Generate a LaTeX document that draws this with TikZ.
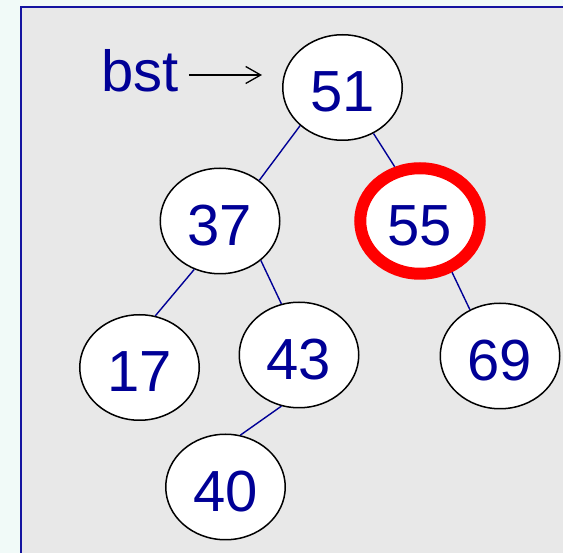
\documentclass[tikz,border=0pt]{standalone}
\usepackage{fontspec}
\setmainfont{Liberation Sans}
\usetikzlibrary{shapes.geometric,arrows.meta}
\definecolor{navy}{HTML}{000096}
\definecolor{outbg}{HTML}{F1FAF8}
\definecolor{boxgrey}{HTML}{E8E8E8}
\definecolor{boxline}{HTML}{1414A0}
\tikzset{
  treenode/.style={ellipse, draw=black, line width=1.5pt, fill=white,
    minimum width=119.5pt, minimum height=105.5pt, inner sep=0pt,
    text height=48.5pt, text depth=0pt,
    text=navy, font=\fontsize{58}{70}\selectfont},
  hilite/.style={treenode, draw=red, line width=12pt},
  treeedge/.style={draw=navy, line width=1.4pt},
  pointer/.style={draw=black, line width=1.3pt, -{Straight Barb[length=15pt,width=17pt,line width=1.3pt]}},
  label/.style={text=navy, font=\fontsize{58}{70}\selectfont, inner sep=0pt}
}
\begin{document}
\begin{tikzpicture}[x=1pt,y=-1pt]
\useasboundingbox (0,0) rectangle (563,553);
\clip (0,0) rectangle (563,553);
\fill[outbg] (0,0) rectangle (563,553);
\draw[boxline, line width=1.6pt, fill=boxgrey] (20.7,7.3) rectangle (600,600);
\node[treenode] (n51) at (342.5,87.5) {51};
\node[treenode] (n37) at (220,221) {37};
\node[hilite]   (n55) at (420,221) {55};
\node[treenode] (n17) at (139.5,367.5) {17};
\node[treenode] (n43) at (299,355) {43};
\node[treenode] (n69) at (500,356) {69};
\node[treenode] (n40) at (225.5,487) {40};
\node[label, anchor=base west] (bst) at (101,92) {bst};
\coordinate (tip) at (262,75);
\draw[pointer, shorten <=10pt] (bst.east |- tip) -- (tip);
\draw[treeedge] (n51.222) -- (n37.46);
\draw[treeedge] (n51.304) -- (n55.115);
\draw[treeedge] (n37.242) -- (n17.73);
\draw[treeedge] (n37.316) -- (n43.109);
\draw[treeedge] (n55.302) -- (n69.123);
\draw[treeedge] (n43.251) -- (n40.74);
\end{tikzpicture}
\end{document}
